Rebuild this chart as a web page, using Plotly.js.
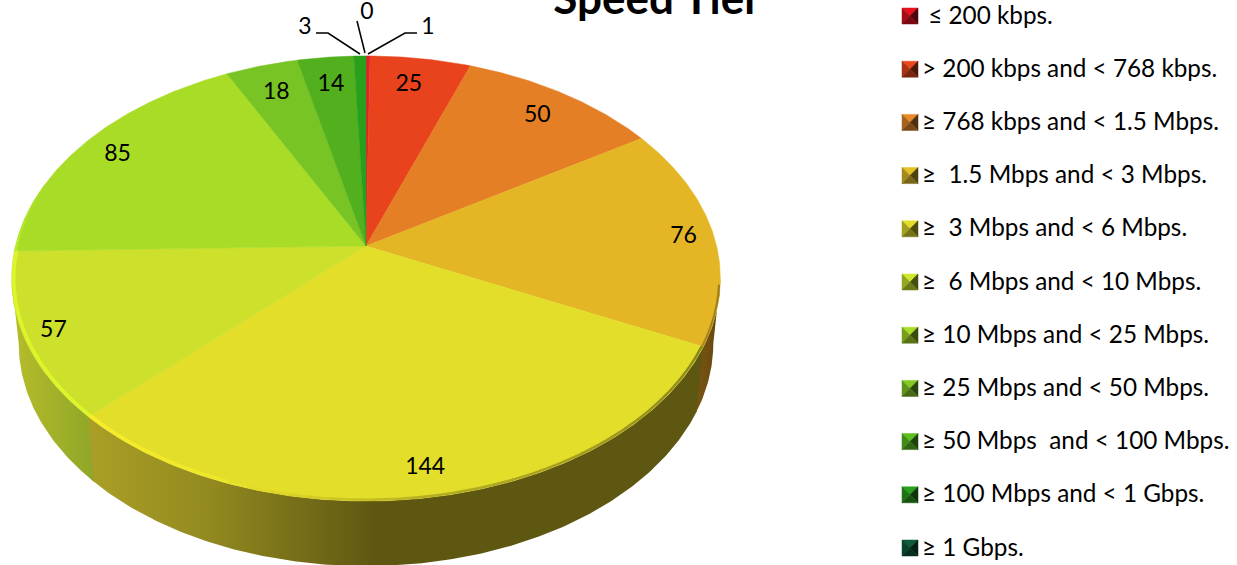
<!DOCTYPE html>
<html>
<head>
<meta charset="utf-8">
<script src="https://cdn.plot.ly/plotly-3.0.1.min.js"></script>
<style>html,body{margin:0;padding:0;background:#fff;overflow:hidden}#chart{width:1237px;height:565px}</style>
</head>
<body>
<div id="chart"></div>
<script>
// ---------- data ----------
const tiers = ["\u00a0≤ 200 kbps.", "> 200 kbps and < 768 kbps.", "≥ 768 kbps and < 1.5 Mbps.",
  "≥\u00a0\u00a01.5 Mbps and < 3 Mbps.", "≥\u00a0\u00a03 Mbps and < 6 Mbps.", "≥\u00a0\u00a06 Mbps and < 10 Mbps.",
  "≥ 10 Mbps and < 25 Mbps.", "≥ 25 Mbps and < 50 Mbps.", "≥ 50 Mbps\u00a0\u00a0and < 100 Mbps.",
  "≥ 100 Mbps and < 1 Gbps.", "≥ 1 Gbps."];
const sliceValues = [1, 25, 50, 76, 144, 57, 85, 18, 14, 3, 0];
// slices in clockwise order; the legend lists the same order
const sliceTier = [0, 1, 2, 3, 4, 5, 6, 7, 8, 9, 10];

// ---------- styles ----------
const tierColors = ["#e3202c", "#e8431c", "#e57f26", "#e4b626", "#e3de2a", "#cde02c", "#a9dc26",
  "#78c424", "#52b01e", "#28a01c", "#0e5a3a"];
const swatchColors = ["#e8101f", "#e8481c", "#e88a28", "#e4c026", "#e3de2a", "#cfe82c", "#a9dc26",
  "#84cc24", "#5cc01e", "#28a01c", "#0e5a3a"];
const labelRadius = [null, .85, .855, .914, .89, .918, .882, .843, .847, null, null];
const labelTurn = [0, -1, 0, 0, 0, 0, 0, 0, 0, 0, 0];
const FONT = "Lato, Carlito, Calibri, sans-serif";
const LABEL_SIZE = 23, LEGEND_SIZE = 24.3, LABEL_DY = 2.5;

// 3D view of the pie (perspective projection of the unit disc)
const CX = 366, CY = 246, A = 350.6, B = 217.8, K = 0.146, DEPTH = 65, BOTTOM_SCALE = 0.98;
function proj(deg, r) {
  const t = deg * Math.PI / 180, u = r * Math.sin(t), v = r * Math.cos(t), w = 1 + K * v;
  return [CX + A * u / w, CY - B * v / w];
}
function bottom(deg) {
  const p = proj(deg, 1);
  return [CX + (p[0] - CX) * BOTTOM_SCALE, p[1] + DEPTH];
}
function arc(a, b, fn) {
  const n = Math.max(2, Math.ceil(Math.abs(b - a) * 2)), out = [];
  for (let i = 0; i <= n; i++) out.push(fn(a + (b - a) * i / n));
  return out;
}
function hex(c) { return [1, 3, 5].map(i => parseInt(c.substr(i, 2), 16)); }
function mix(a, b, f) {
  const x = hex(a), y = hex(b);
  return "rgb(" + x.map((v, i) => Math.round(v + (y[i] - v) * f)).join(",") + ")";
}
function shade(c, f) { return "rgb(" + hex(c).map(v => Math.round(v * f)).join(",") + ")"; }

const total = sliceValues.reduce((s, v) => s + v, 0);
const starts = [], ends = [];
sliceValues.reduce((cum, v, i) => {
  starts[i] = cum / total * 360; ends[i] = (cum + v) / total * 360; return cum + v;
}, 0);

const traces = [];
const poly = (pts, extra) => Object.assign({
  type: "scatter", mode: "lines", x: pts.map(p => p[0]), y: pts.map(p => p[1]),
  fill: "toself", line: {width: 0}, hoverinfo: "skip", showlegend: false
}, extra);

// ---------- side wall ----------
const wallLeft = 261.6, wallRight = 98.4, wallOverlap = 0.6;
const wallStyle = {
  3: {scale: [[0, "#7a5612"], [1, "#654610"]], line: "#654610"},
  4: {scale: [[0, "#ab9f26"], [0.19, "#948b20"], [0.47, "#5e5712"], [1, "#5e5712"]], line: "#5e5712"},
  5: {scale: [[0, "#b6bd2a"], [1, "#90a628"]], line: "#a0b028"}
};
sliceValues.forEach((v, i) => {
  const a = Math.max(starts[i], wallRight), b = Math.min(ends[i] + wallOverlap, wallLeft);
  if (b <= a || !wallStyle[i]) return;
  const pts = arc(a, b, d => proj(d, 1)).concat(arc(b, a, bottom));
  pts.push(pts[0]);
  traces.push(poly(pts, {
    name: "wall " + i,
    fillcolor: wallStyle[i].line,
    fillgradient: {type: "horizontal", colorscale: wallStyle[i].scale}
  }));
});

// ---------- top face ----------
sliceValues.forEach((v, i) => {
  if (v <= 0) return;
  const pts = [[CX, CY]].concat(arc(starts[i], ends[i], d => proj(d, 1)));
  pts.push([CX, CY]);
  traces.push(poly(pts, {
    name: tiers[sliceTier[i]],
    fillcolor: tierColors[sliceTier[i]],
    line: {width: 0.5, color: tierColors[sliceTier[i]]}
  }));
});

// ---------- bevel highlight along the rim ----------
const rimParts = [
  [100, 115.7, "#9a7c1c", "#a88a1e", 2],
  [115.7, 170, "#8c871c", "#b5ae22", 2.5],
  [170, 200, "#b5ae22", "#eee62a", 2.5],
  [200, 225.3, "#eee62a", "#f8ef28", 3.5],
  [225.3, 268.7, "#dcf62a", "#dcf62a", 3.5],
  [268.7, 285, "#b4ee2a", "#a9dc26", 2]
];
rimParts.forEach(([a, b, c0, c1, w]) => {
  const n = Math.ceil((b - a) / 3);
  for (let i = 0; i < n; i++) {
    const d0 = a + (b - a) * i / n, d1 = a + (b - a) * (i + 1) / n;
    const pts = arc(d0, d1 + 0.2, d => proj(d, 1 - w / 2 / 300));
    traces.push({type: "scatter", mode: "lines", x: pts.map(p => p[0]), y: pts.map(p => p[1]),
      line: {color: mix(c0, c1, i / n), width: w}, hoverinfo: "skip", showlegend: false});
  }
});

// ---------- value labels ----------
const inner = sliceValues.map((v, i) => i).filter(i => labelRadius[i] !== null);
const innerPts = inner.map(i => proj((starts[i] + ends[i]) / 2 + labelTurn[i], labelRadius[i]));
traces.push({type: "scatter", mode: "text", x: innerPts.map(p => p[0]), y: innerPts.map(p => p[1] + LABEL_DY),
  text: inner.map(i => String(sliceValues[i])), textposition: "middle center",
  textfont: {family: FONT, size: LABEL_SIZE, color: "#000"}, hoverinfo: "skip", showlegend: false});

// outside labels with leader lines
const outerIdx = [9, 10, 0];
const outerAt = [[305, 28], [367, 13], [428, 28]];
const leaders = [[[316, 33], [328, 33], [360, 54]], [[357, 21], [365, 53]], [[417, 33], [405, 33], [368, 54]]];
traces.push({type: "scatter", mode: "text", x: outerAt.map(p => p[0]), y: outerAt.map(p => p[1]),
  text: outerIdx.map(i => String(sliceValues[i])), textposition: "middle center",
  textfont: {family: FONT, size: LABEL_SIZE, color: "#000"}, hoverinfo: "skip", showlegend: false});
leaders.forEach(l => traces.push({type: "scatter", mode: "lines", x: l.map(p => p[0]), y: l.map(p => p[1]),
  line: {color: "#000", width: 1.5}, hoverinfo: "skip", showlegend: false}));

// ---------- legend ----------
const LEG_X0 = 902, LEG_S = 16, LEG_Y0 = 16, LEG_STEP = 53.2, LEG_TEXT = 920;
const shapes = [], annotations = [];
tiers.forEach((t, i) => {
  const yc = LEG_Y0 + i * LEG_STEP, x0 = LEG_X0, x1 = LEG_X0 + LEG_S, y0 = yc - LEG_S / 2, y1 = yc + LEG_S / 2;
  const xm = (x0 + x1) / 2, c = swatchColors[i];
  const tri = (pts, col) => shapes.push({type: "path", xref: "x", yref: "y", layer: "above",
    path: "M" + pts.map(p => p.join(",")).join("L") + "Z", fillcolor: col, line: {width: 0.5, color: col}});
  tri([[x0, y0], [x1, y0], [xm, yc]], c);
  tri([[x0, y0], [x0, y1], [xm, yc]], shade(c, 0.72));
  tri([[x1, y0], [x1, y1], [xm, yc]], shade(c, 0.34));
  tri([[x0, y1], [x1, y1], [xm, yc]], shade(c, 0.52));
  annotations.push({x: LEG_TEXT, y: yc - 2, xref: "x", yref: "y", text: t, showarrow: false,
    xanchor: "left", yanchor: "middle", font: {family: FONT, size: LEGEND_SIZE, color: "#000"}});
});

const layout = {
  width: 1237, height: 565, margin: {l: 0, r: 0, t: 0, b: 0},
  paper_bgcolor: "#fff", plot_bgcolor: "#fff", showlegend: false, hovermode: false,
  title: {text: "Speed Tier", font: {family: FONT, size: 44, color: "#000", weight: 700},
    x: 657 / 1237, xanchor: "center", xref: "paper", y: 1 - 14 / 565, yanchor: "bottom", yref: "container"},
  xaxis: {range: [0, 1237], visible: false, fixedrange: true},
  yaxis: {range: [565, 0], visible: false, fixedrange: true},
  shapes, annotations
};
Plotly.newPlot("chart", traces, layout, {displayModeBar: false, staticPlot: true});
</script>
</body>
</html>
